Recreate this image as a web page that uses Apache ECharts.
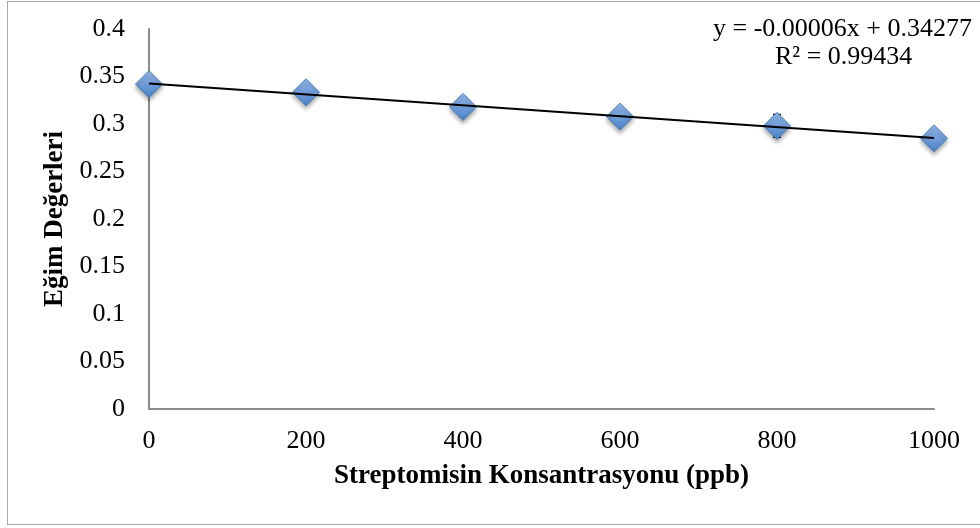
<!DOCTYPE html>
<html>
<head>
<meta charset="utf-8">
<script src="https://cdn.jsdelivr.net/npm/echarts@6/dist/echarts.min.js"></script>
<style>
html,body{margin:0;padding:0;background:#fff;}
#frame{position:absolute;left:7px;top:1px;width:990px;height:524px;border:1px solid #a6a6a6;box-sizing:border-box;}
#chart{position:absolute;left:0;top:0;width:980px;height:528px;}
</style>
</head>
<body>
<div id="frame"></div>
<div id="chart"></div>
<script>
var concentrations = [0, 200, 400, 600, 800, 1000];
var slopeValues = [0.3419, 0.3334, 0.318, 0.3077, 0.298, 0.2849];
var errorValues = [0.003, 0.003, 0.010, 0.004, 0.012, 0.003];
var yTicks = [0, 0.05, 0.1, 0.15, 0.2, 0.25, 0.3, 0.35, 0.4];
var xTicks = [0, 200, 400, 600, 800, 1000];
var equationText = 'y = -0.00006x + 0.34277';
var r2Text = 'R² = 0.99434';

// linear regression
var n = concentrations.length, sx = 0, sy = 0, sxx = 0, sxy = 0;
for (var i = 0; i < n; i++) { sx += concentrations[i]; sy += slopeValues[i]; sxx += concentrations[i]*concentrations[i]; sxy += concentrations[i]*slopeValues[i]; }
var b = (n*sxy - sx*sy) / (n*sxx - sx*sx);
var a = (sy - b*sx) / n;
var xMin = concentrations[0], xMax = concentrations[n-1];
var trend = [[xMin, a + b*xMin], [xMax, a + b*xMax]];

var points = concentrations.map(function(x, i){ return [x, slopeValues[i]]; });
var errData = concentrations.map(function(x, i){ return [x, slopeValues[i]-errorValues[i], slopeValues[i]+errorValues[i]]; });

var font = '"Liberation Serif", "Times New Roman", serif';
var chart = echarts.init(document.getElementById('chart'), null, {renderer:'canvas'});
chart.setOption({
  backgroundColor: 'transparent',
  animation: false,
  grid: {left: 149, right: 46, top: 29, bottom: 119},
  xAxis: {
    type: 'value', min: 0, max: 1000, interval: 200,
    name: 'Streptomisin Konsantrasyonu (ppb)', nameLocation: 'middle', nameGap: 54,
    nameTextStyle: {fontFamily: font, fontWeight: 'bold', fontSize: 27, color: '#000'},
    axisLine: {show: true, lineStyle: {color: '#8c8c8c', width: 2}},
    axisTick: {show: false},
    splitLine: {show: false},
    axisLabel: {fontFamily: font, fontSize: 26, color: '#000', margin: 19,
      formatter: function(v){ return String(v); }}
  },
  yAxis: {
    type: 'value', min: 0, max: 0.4, interval: 0.05,
    name: 'Eğim Değerleri', nameLocation: 'middle', nameGap: 78, nameRotate: 90,
    nameTextStyle: {fontFamily: font, fontWeight: 'bold', fontSize: 27, color: '#000'},
    axisLine: {show: true, lineStyle: {color: '#8c8c8c', width: 2}},
    axisTick: {show: false},
    splitLine: {show: false},
    axisLabel: {fontFamily: font, fontSize: 26, color: '#000', margin: 24,
      formatter: function(v){ return String(+v.toFixed(2)); }}
  },
  graphic: [
    {type: 'text', left: 713, top: 16, style: {text: equationText, font: '26px ' + font, fill: '#000'}},
    {type: 'text', left: 775, top: 44, style: {text: r2Text, font: '26px ' + font, fill: '#000'}}
  ],
  series: [
    {
      type: 'custom', z: 2,
      renderItem: function(params, api){
        var x = api.value(0);
        var lo = api.coord([x, api.value(1)]);
        var hi = api.coord([x, api.value(2)]);
        var w = 4;
        return {type: 'group', children: [
          {type: 'line', shape: {x1: lo[0], y1: lo[1], x2: hi[0], y2: hi[1]}, style: {stroke: '#000', lineWidth: 1.5}},
          {type: 'line', shape: {x1: lo[0]-w, y1: lo[1], x2: lo[0]+w, y2: lo[1]}, style: {stroke: '#000', lineWidth: 1.5}},
          {type: 'line', shape: {x1: hi[0]-w, y1: hi[1], x2: hi[0]+w, y2: hi[1]}, style: {stroke: '#000', lineWidth: 1.5}}
        ]};
      },
      data: errData
    },
    {
      type: 'scatter', z: 3,
      symbol: 'diamond', symbolSize: [27, 27],
      itemStyle: {
        opacity: 1,
        color: new echarts.graphic.LinearGradient(0, 0, 0, 1, [
          {offset: 0, color: '#96bbeb'}, {offset: 1, color: '#4a7fc6'}
        ]),
        borderColor: '#4a7ebb', borderWidth: 1,
        shadowColor: 'rgba(0,0,0,0.35)', shadowBlur: 4, shadowOffsetY: 3
      },
      data: points
    },
    {
      type: 'line', z: 4, symbol: 'none', silent: true,
      lineStyle: {color: '#000', width: 2},
      data: trend
    }
  ]
});
</script>
</body>
</html>
